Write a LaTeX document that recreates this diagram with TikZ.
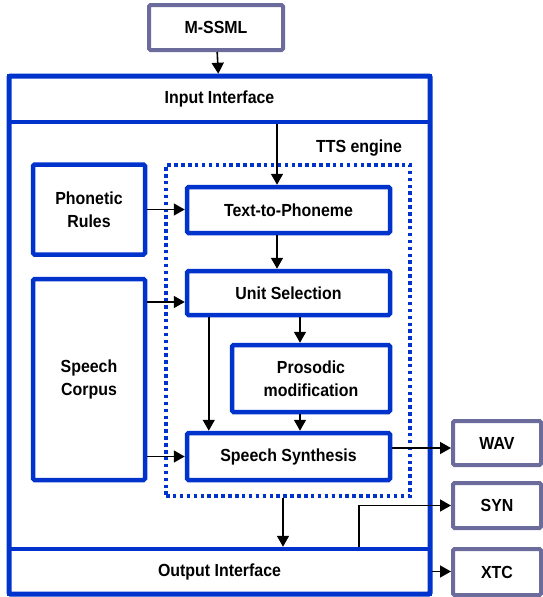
\documentclass[tikz,border=0pt]{standalone}
\usepackage{fontspec}
\setmainfont[FakeStretch=0.91]{Liberation Sans}
\usetikzlibrary{arrows.meta}
\definecolor{ttsblue}{RGB}{0,51,204}
\definecolor{fmtgray}{RGB}{108,108,156}
\tikzstyle{bluebox} = [rectangle, rounded corners=1.5pt,
inner sep=0pt,
align=center,
line width=4.5pt,
draw=ttsblue]
\tikzstyle{fmtbox} = [rectangle, rounded corners=1.5pt,
inner sep=0pt,
align=center,
line width=4pt,
draw=fmtgray]
\tikzstyle{arr} = [line width=1.6pt, -{Triangle[length=11pt,width=12pt]}]

\begin{document}
\begin{tikzpicture}[x=1pt, y=-1pt, font=\bfseries\fontsize{17.5}{23}\selectfont]
		\useasboundingbox (0,0) rectangle (542,597);
		% outer frame and interfaces
		\node (frame) [bluebox, line width=5pt, minimum width=421pt, minimum height=518pt] at (219.5,335) {};
		\node (input) [bluebox, rounded corners=0pt, minimum width=421pt, minimum height=46pt] at (219.5,99) {Input Interface};
		\node (output) [bluebox, rounded corners=0pt, minimum width=421pt, minimum height=45pt] at (219.5,571.5) {Output Interface};
		\node (mssml) [fmtbox, minimum width=134pt, minimum height=45pt] at (216,27.5) {M-SSML};
		
		% TTS engine
		\node (tts) [draw=ttsblue, line width=4pt, dash pattern=on 3.5pt off 3.4pt, minimum width=244pt, minimum height=331pt] at (288,330.5) {};
		\node (ttslabel) at (359,148) {TTS engine};
		\node (phon) [bluebox, minimum width=112pt, minimum height=90pt] at (89,209.5) {Phonetic\\Rules};
		\node (corpus) [bluebox, minimum width=112pt, minimum height=201pt] at (89,379.5) {Speech\\Corpus};
		\node (t2p) [bluebox, minimum width=203pt, minimum height=46pt] at (288.5,210) {Text-to-Phoneme};
		\node (unitsel) [bluebox, minimum width=203pt, minimum height=44pt] at (288.5,293) {Unit Selection};
		\node (prosodic) [bluebox, minimum width=158pt, minimum height=67pt] at (311,378.5) {Prosodic\\modification};
		\node (synth) [bluebox, minimum width=203pt, minimum height=47pt] at (288.5,456.5) {Speech Synthesis};
		
		% output formats
		\node (wav) [fmtbox, minimum width=88pt, minimum height=44pt] at (497,443) {WAV};
		\node (syn) [fmtbox, minimum width=88pt, minimum height=45pt] at (497,505.5) {SYN};
		\node (xtc) [fmtbox, minimum width=88pt, minimum height=46pt] at (497,572) {XTC};
		
		\draw [arr](mssml) -- (input);
		\draw [arr]([xshift=-11.5pt]t2p.north |- input.south) -- ([xshift=-11.5pt]t2p.north);
		\draw [arr]([xshift=-11.5pt]t2p.south) -- ([xshift=-11.5pt]unitsel.north);
		\draw [arr](phon.east) -- (phon.east -| t2p.west);
		\draw [arr]([yshift=-9pt]unitsel.west -| corpus.east) -- ([yshift=-9pt]unitsel.west);
		\draw [arr](synth.west -| corpus.east) -- (synth.west);
		\draw [arr]([xshift=-11pt]prosodic.north |- unitsel.south) -- ([xshift=-11pt]prosodic.north);
		\draw [arr]([xshift=-11pt]prosodic.south) -- ([xshift=-11pt]prosodic.south |- synth.north);
		\draw [arr]([xshift=24pt]unitsel.south west) -- ([xshift=24pt]synth.north west);
		\draw [arr]([yshift=8.5pt]synth.east) -- ([yshift=8.5pt]synth.east -| wav.west);
		\draw [arr]([xshift=-5pt]tts.south) -- ([xshift=-5pt]tts.south |- output.north);
		\draw [arr]([xshift=139.5pt]output.north) |- (syn.west);
		\draw [arr](output.east) -- (output.east -| xtc.west);
	\end{tikzpicture}
\end{document}
